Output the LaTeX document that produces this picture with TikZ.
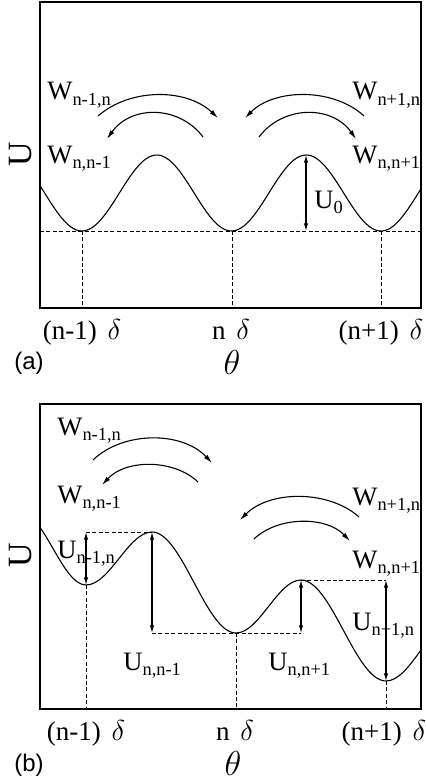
\documentclass[tikz,border=0pt]{standalone}
\usepackage{fontspec}
\setmainfont{Liberation Serif}
\newfontfamily\panelfont{Liberation Sans}
\usetikzlibrary{arrows.meta}
\newcommand\lsub[1]{\raisebox{-2.6pt}{\fontsize{9.2}{10}\selectfont #1}}
\tikzset{
  frame/.style={line width=0.75pt},
  curve/.style={line width=0.55pt},
  guide/.style={dash pattern=on 2pt off 1.2pt,line width=0.45pt},
  rate/.style={-{Latex[length=4.5pt,width=2.4pt]},line width=0.55pt},
  gap/.style={{Latex[length=3.8pt,width=2.2pt]}-{Latex[length=3.8pt,width=2.2pt]},line width=0.55pt},
  lbl/.style={anchor=base west,inner sep=0pt,font=\fontsize{13.3}{15}\selectfont},
  tick/.style={anchor=base,inner sep=0pt,font=\fontsize{13.5}{15}\selectfont},
  axislbl/.style={anchor=base,inner sep=0pt,font=\fontsize{16}{18}\selectfont},
  panel/.style={anchor=base west,inner sep=0pt,font=\panelfont\fontsize{12}{14}\selectfont},
}

\begin{document}
\begin{tikzpicture}[x=0.5pt,y=-0.5pt]
    \useasboundingbox (0,0) rectangle (425,781);

    % (a) symmetric potential
    \draw[curve] plot[domain=40:421,samples=140] (\x,{231-38*(1-cos(2.408*(\x-82)))});
    \draw[guide] (40,231) -- (421,231);
    \foreach \t in {82,232,381} \draw[guide] (\t,231) -- (\t,308);
    \draw[gap] (306,155) -- (306,231);
    \draw[frame] (40,2) rectangle (421,308);

    \draw[rate] (98,116) .. controls (130,88) and (186,88) .. (218,118);
    \draw[rate] (203,137) .. controls (179,105) and (131,105) .. (107,139);
    \draw[rate] (364,116) .. controls (334,88) and (275,88) .. (245,118);
    \draw[rate] (259,137) .. controls (283,105) and (332,105) .. (356,139);

    \node[lbl] (wa1) at (47,100) {W\lsub{n-1,n}};
    \node[lbl] (wa2) at (47,163) {W\lsub{n,n-1}};
    \node[lbl] (wa3) at (352,100) {W\lsub{n+1,n}};
    \node[lbl] (wa4) at (352,163) {W\lsub{n,n+1}};
    \node[lbl] (ua0) at (314,208) {U\lsub{0}};

    \node[rotate=90,inner sep=0pt,font=\fontsize{17}{18}\selectfont] (ya) at (21,154) {U};
    \node[tick] (ta1) at (82,339) {(n-1)\hspace{0.4em}$\delta$};
    \node[tick] (ta2) at (231,339) {n\hspace{0.4em}$\delta$};
    \node[tick] (ta3) at (381,339) {(n+1)\hspace{0.4em}$\delta$};
    \node[axislbl] (xa) at (232,374) {$\theta$};
    \node[panel] (pa) at (14,369) {(a)};

    % (b) tilted potential
    \begin{scope}
      \clip (40,404) rectangle (421,709);
      \draw[curve] (20,512) .. controls (43.8,512) and (62.2,585) .. (86,585)
        .. controls (109.8,585) and (128.2,532) .. (152,532)
        .. controls (182.2,532) and (205.8,633) .. (236,633)
        .. controls (259.4,633) and (277.6,580) .. (301,580)
        .. controls (331.6,580) and (355.4,681) .. (386,681)
        .. controls (411.2,681) and (430.8,619) .. (456,619);
    \end{scope}
    \draw[guide] (86,532) -- (152,532);
    \draw[guide] (152,633) -- (301,633);
    \draw[guide] (301,580) -- (386,580);
    \draw[guide] (86,585) -- (86,709);
    \draw[guide] (236,633) -- (236,709);
    \draw[guide] (386,681) -- (386,709);
    \draw[gap] (86,532) -- (86,585);
    \draw[gap] (152,532) -- (152,633);
    \draw[gap] (301,580) -- (301,633);
    \draw[gap] (386,580) -- (386,681);
    \draw[frame] (40,404) rectangle (421,709);

    \draw[rate] (93,460) .. controls (123,431) and (182,431) .. (212,463);
    \draw[rate] (198,482) .. controls (174,459) and (126,459) .. (102,485);
    \draw[rate] (359,517) .. controls (329,490) and (270,490) .. (240,520);
    \draw[rate] (254,539) .. controls (278,516) and (326,516) .. (350,541);

    \node[lbl] (wb1) at (57,435) {W\lsub{n-1,n}};
    \node[lbl] (wb2) at (57,503) {W\lsub{n,n-1}};
    \node[lbl] (wb3) at (352,505) {W\lsub{n+1,n}};
    \node[lbl] (wb4) at (352,568) {W\lsub{n,n+1}};
    \node[lbl] (ub1) at (57,558) {U\lsub{n-1,n}};
    \node[lbl] (ub2) at (123,670) {U\lsub{n,n-1}};
    \node[lbl] (ub3) at (268,670) {U\lsub{n,n+1}};
    \node[lbl] (ub4) at (352,630) {U\lsub{n+1,n}};

    \node[rotate=90,inner sep=0pt,font=\fontsize{17}{18}\selectfont] (yb) at (21,555) {U};
    \node[tick] (tb1) at (86,740) {(n-1)\hspace{0.4em}$\delta$};
    \node[tick] (tb2) at (235,740) {n\hspace{0.4em}$\delta$};
    \node[tick] (tb3) at (384,740) {(n+1)\hspace{0.4em}$\delta$};
    \node[axislbl] (xb) at (233,775) {$\theta$};
    \node[panel] (pb) at (14,771) {(b)};
\end{tikzpicture}
\end{document}
